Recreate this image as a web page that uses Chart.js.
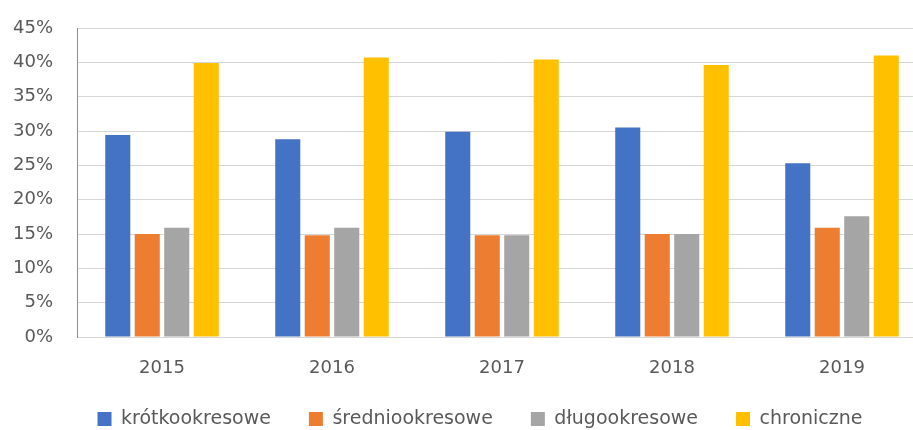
<!DOCTYPE html>
<html>
<head>
<meta charset="utf-8">
<script src="https://cdn.jsdelivr.net/npm/chart.js@4"></script>
<style>
	html, body { margin: 0; padding: 0; background: #fff; overflow: hidden; }
	#wrap { position: relative; width: 940px; height: 445px; }
</style>
</head>
<body>
<div id="wrap"><canvas id="chart"></canvas></div>
<script>
// years on the x axis
const years = ['2015', '2016', '2017', '2018', '2019'];

// shares in percent
const krotkookresowe = [29.4, 28.8, 29.9, 30.5, 25.3];
const sredniookresowe = [15.0, 14.8, 14.8, 15.0, 15.9];
const dlugookresowe = [15.9, 15.9, 14.8, 15.0, 17.6];
const chroniczne = [39.9, 40.7, 40.4, 39.6, 41.0];

const seriesNames = ['krótkookresowe', 'średniookresowe', 'długookresowe', 'chroniczne'];
const seriesColors = ['#4472C4', '#ED7D31', '#A5A5A5', '#FFC000'];

const fontFamily = "'DejaVu Sans', sans-serif";
const textColor = '#595959';

var makeDataset = (i, values) => ({
	label: seriesNames[i],
	data: values,
	backgroundColor: seriesColors[i],
	borderWidth: 0,
	categoryPercentage: 0.694,
	barPercentage: 0.85
});

// nudge the legend a bit, the Excel one sits right of centre
const legendShift = {
	id: 'legendShift',
	afterLayout: (chart) => {
		const l = chart.legend;
		l.left += 16.5; l.right += 16.5;
		l.top -= 6.5; l.bottom -= 6.5;
	}
};

const config = {
	type: 'bar',
	data: {
		labels: years,
		datasets: [
			makeDataset(0, krotkookresowe),
			makeDataset(1, sredniookresowe),
			makeDataset(2, dlugookresowe),
			makeDataset(3, chroniczne)
		]
	},
	plugins: [legendShift],
	options: {
		responsive: true,
		maintainAspectRatio: false,
		animation: false,
		layout: { padding: { left: 0, right: 13, top: 28, bottom: 0 } },
		plugins: {
			tooltip: { enabled: false },
			legend: {
				position: 'bottom',
				labels: {
					boxWidth: 14,
					boxHeight: 14,
					padding: 38,
					color: textColor,
					font: { family: fontFamily, size: 19 }
				}
			}
		},
		scales: {
			x: {
				afterFit: (scale) => { scale.height = 41; },
				grid: { display: false, drawTicks: false },
				border: { display: false },
				ticks: { padding: 21, color: textColor, font: { family: fontFamily, size: 18 } }
			},
			y: {
				min: 0,
				max: 45,
				afterFit: (scale) => { scale.width = 77; scale.paddingTop = 0; scale.paddingBottom = 0; },
				grid: { color: '#d6d6d6', drawTicks: false },
				border: { display: true, color: '#6f94d6' },
				ticks: {
					stepSize: 5,
					padding: 24,
					color: textColor,
					font: { family: fontFamily, size: 18 },
					callback: (v) => v + '%'
				}
			}
		}
	}
};

const myChart = new Chart(document.getElementById('chart'), config);
</script>
</body>
</html>
